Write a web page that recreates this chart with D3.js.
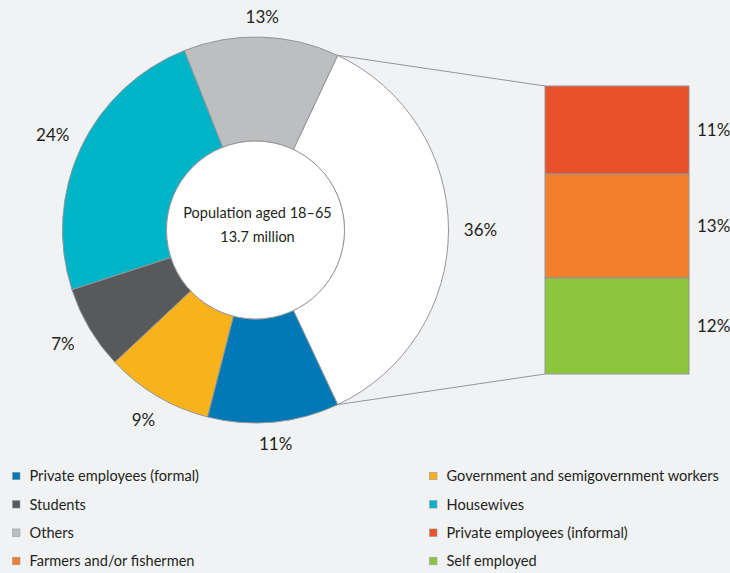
<!DOCTYPE html>
<html>
<head>
<meta charset="utf-8">
<script src="https://cdn.jsdelivr.net/npm/d3@7"></script>
<style>
  html, body { margin: 0; padding: 0; background: #f1f2f4; }
  svg { display: block; font-family: Lato, "Open Sans", sans-serif; }
</style>
</head>
<body>
<svg id="chart" width="730" height="573"></svg>
<script>
// Working-age population by activity (share of 13.7 million, %)
const pieCategories = ["Working (informal / self / farming)", "Private employees (formal)", "Government and semigovernment workers", "Students", "Housewives", "Others"];
const pieValues = [36, 11, 9, 7, 24, 13];
const pieColors = ["#ffffff", "#0079b6", "#f8b21c", "#58595b", "#00b4c8", "#bcbec0"];

// Breakdown of the first slice
const barCategories = ["Private employees (informal)", "Farmers and/or fishermen", "Self employed"];
const barValues = [11, 13, 12];
const barColors = ["#e9512a", "#f17f2b", "#8cc63f"];

// Legend entries, two columns
const legendLeft = ["Private employees (formal)", "Students", "Others", "Farmers and/or fishermen"];
const legendRight = ["Government and semigovernment workers", "Housewives", "Private employees (informal)", "Self employed"];

const centerLines = ["Population aged 18–65", "13.7 million"];

const colorOf = name => {
  const i = pieCategories.indexOf(name);
  if (i >= 0) return pieColors[i];
  return barColors[barCategories.indexOf(name)];
};

const svg = d3.select("#chart");
const stroke = "#939598";
const textColor = "#231f20";

const cx = 255.5, cy = 230, R = 193, r0 = 89;

// Rotate so the first slice is centred on the right-hand side
const total = d3.sum(pieValues);
const start = Math.PI / 2 - Math.PI * pieValues[0] / total;
const pie = d3.pie().sort(null).value(d => d).startAngle(start).endAngle(start + 2 * Math.PI);
const arcs = pie(pieValues);
const arc = d3.arc().innerRadius(r0).outerRadius(R);

const g = svg.append("g").attr("transform", `translate(${cx},${cy})`);

// Stacked breakdown bar
const barX = 545, barW = 144, barTop = 86, barBottom = 374;
const y = d3.scaleLinear().domain([0, d3.sum(barValues)]).range([barTop, barBottom]);
const cum = d3.cumsum(barValues);
const stacks = barValues.map((v, i) => ({ v, y0: cum[i] - v, y1: cum[i], c: barColors[i] }));

// Connector lines from the slice edges to the bar
const pt = (a, rad) => [cx + rad * Math.sin(a), cy - rad * Math.cos(a)];
const s0 = pt(arcs[0].startAngle, R), s1 = pt(arcs[0].endAngle, R);
svg.append("line").attr("x1", s0[0]).attr("y1", s0[1]).attr("x2", barX).attr("y2", y(0))
  .attr("stroke", stroke).attr("stroke-width", 1);
svg.append("line").attr("x1", s1[0]).attr("y1", s1[1]).attr("x2", barX).attr("y2", y(d3.sum(barValues)))
  .attr("stroke", stroke).attr("stroke-width", 1);

g.selectAll("path.slice").data(arcs).join("path")
  .attr("class", "slice")
  .attr("d", arc)
  .attr("fill", (d, i) => pieColors[i])
  .attr("stroke", stroke)
  .attr("stroke-width", 1);

// Inner circle with caption
g.append("circle").attr("r", r0).attr("fill", "#ffffff").attr("stroke", stroke).attr("stroke-width", 1);
g.selectAll("text.center").data(centerLines).join("text")
  .attr("class", "center")
  .attr("x", 2)
  .attr("y", (d, i) => -12 + i * 24)
  .attr("text-anchor", "middle")
  .attr("font-size", 14.5)
  .attr("fill", textColor)
  .text(d => d);

// Percentage labels around the ring
g.selectAll("text.pct").data(arcs).join("text")
  .attr("class", "pct")
  .attr("text-anchor", "middle")
  .attr("dy", "0.36em")
  .attr("font-size", 17)
  .attr("fill", textColor)
  .attr("transform", d => {
    const a = (d.startAngle + d.endAngle) / 2;
    const rr = 212 + 13 * Math.pow(Math.abs(Math.sin(a)), 0.7);
    return `translate(${rr * Math.sin(a)},${-rr * Math.cos(a)})`;
  })
  .text(d => d.data + "%");

svg.selectAll("rect.stack").data(stacks).join("rect")
  .attr("class", "stack")
  .attr("x", barX).attr("width", barW)
  .attr("y", d => y(d.y0)).attr("height", d => y(d.y1) - y(d.y0))
  .attr("fill", d => d.c)
  .attr("stroke", stroke).attr("stroke-width", 1);

svg.selectAll("text.stackLabel").data(stacks).join("text")
  .attr("class", "stackLabel")
  .attr("x", barX + barW + 8)
  .attr("y", d => (y(d.y0) + y(d.y1)) / 2)
  .attr("dy", "0.36em")
  .attr("font-size", 17)
  .attr("fill", textColor)
  .text(d => d.v + "%");

// Legend
const legendRows = [476, 504.3, 532.7, 561];
const legendCols = [{ x: 12.5, items: legendLeft }, { x: 429.5, items: legendRight }];
legendCols.forEach(col => {
  const lg = svg.append("g");
  const rows = lg.selectAll("g").data(col.items).join("g")
    .attr("transform", (d, i) => `translate(${col.x},${legendRows[i]})`);
  rows.append("rect")
    .attr("x", 0).attr("y", -3.75).attr("width", 7.5).attr("height", 7.5)
    .attr("fill", d => colorOf(d))
    .attr("stroke", "#9a9b9d").attr("stroke-width", 0.6);
  rows.append("text")
    .attr("x", 17)
    .attr("dy", "0.36em")
    .attr("font-size", 14.6)
    .attr("fill", textColor)
    .text(d => d);
});
</script>
</body>
</html>
